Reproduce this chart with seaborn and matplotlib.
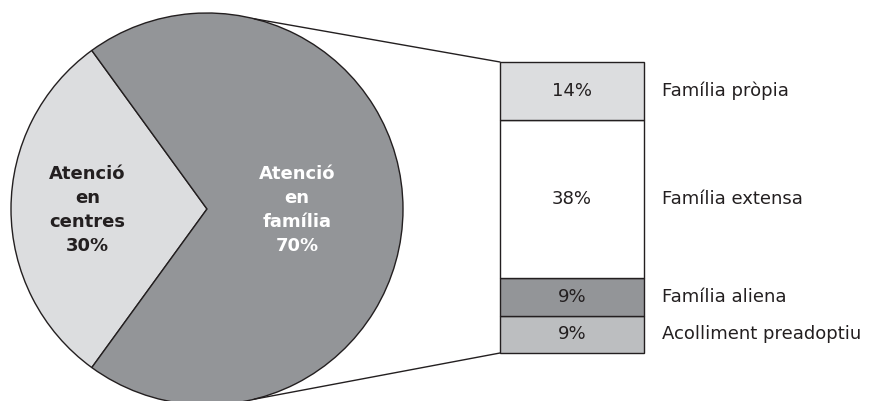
import matplotlib
matplotlib.use("Agg")
import matplotlib.pyplot as plt
from matplotlib.patches import ConnectionPatch
import seaborn as sns
import numpy as np

# ---- data ----
pie_labels = ["Atenció\nen\ncentres", "Atenció\nen\nfamília"]
pie_values = [30, 70]
pie_colors = ["#dcdddf", "#939598"]
pie_text_colors = ["#231f20", "#ffffff"]

bar_labels = ["Acolliment preadoptiu", "Família aliena", "Família extensa", "Família pròpia"]
bar_values = [9, 9, 38, 14]
bar_colors = ["#bcbec0", "#939598", "#ffffff", "#dcdddf"]

sns.set_theme(style="white")
plt.rcParams["font.family"] = ["DejaVu Sans"]

EDGE = "#231f20"
W, H = 869, 401
fig = plt.figure(figsize=(W / 100, H / 100), dpi=100)
fig.patch.set_facecolor("white")

# pie axes in pixel-like coordinates
ax = fig.add_axes([0, 0, 1, 1])
cx, cy, r = 207, 192, 196
wedges, _ = ax.pie(pie_values, colors=pie_colors, startangle=126, center=(cx, cy),
                   radius=r, counterclock=True,
                   wedgeprops=dict(edgecolor=EDGE, linewidth=1.0))
ax.set_xlim(0, W)
ax.set_ylim(0, H)
ax.set_aspect("equal")
ax.axis("off")

# pie labels
label_pos = [(-0.61, -0.005), (0.46, -0.005)]
for lab, val, col, (fx, fy) in zip(pie_labels, pie_values, pie_text_colors, label_pos):
    ax.text(cx + fx * r, cy + fy * r, f"{lab}\n{val}%", ha="center", va="center",
            fontsize=13, fontweight="bold", color=col, linespacing=1.45)

# stacked bar axes
bax = fig.add_axes([500 / W, (H - 353) / H, 144 / W, 291 / H])
total = sum(bar_values)
bottoms = np.concatenate([[0], np.cumsum(bar_values)[:-1]])
for lab, val, col, b in zip(bar_labels, bar_values, bar_colors, bottoms):
    bax.bar(0, val, width=1, bottom=b, color=col, edgecolor=EDGE, linewidth=1.0,
            clip_on=False)
    bax.text(0, b + val / 2, f"{val}%", ha="center", va="center", fontsize=13,
             color=EDGE)
    bax.text(1.125, b + val / 2, lab, ha="left", va="center", fontsize=13,
             color=EDGE, transform=bax.get_yaxis_transform())
bax.set_xlim(-0.5, 0.5)
bax.set_ylim(0, total)
bax.axis("off")

# connector lines
for ang, yb in [(76, total), (-76, 0)]:
    th = np.deg2rad(ang)
    px, py = cx + r * np.cos(th), cy + r * np.sin(th)
    con = ConnectionPatch(xyA=(-0.5, yb), coordsA=bax.transData,
                          xyB=(px, py), coordsB=ax.transData,
                          color=EDGE, linewidth=1.0)
    fig.add_artist(con)

fig.savefig("out.png", dpi=100, facecolor="white")
